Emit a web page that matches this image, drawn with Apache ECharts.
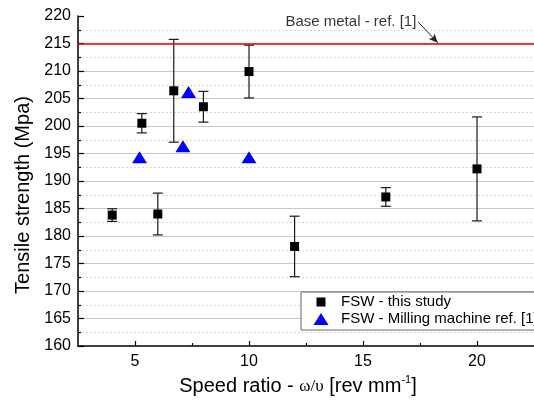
<!DOCTYPE html>
<html>
<head>
<meta charset="utf-8">
<script src="https://cdn.jsdelivr.net/npm/echarts@6/dist/echarts.min.js"></script>
<style>
html,body{margin:0;padding:0;background:#fff;}
#chart{width:534px;height:405px;}
</style>
</head>
<body>
<div id="chart"></div>
<script>
// ---- data ----
const fswX = [4, 5.3, 6, 6.7, 8, 10, 12, 16, 20];
const fswY = [183.8, 200.5, 184.0, 206.4, 203.5, 209.9, 178.1, 187.1, 192.2];
const fswErr = [1.15, 1.75, 3.8, 9.35, 2.8, 4.8, 5.5, 1.7, 9.45];
const millX = [5.2, 7.1, 7.35, 10.0];
const millY = [194.3, 196.3, 206.2, 194.3];
const baseMetal = 215;
const xTicks = [5, 10, 15, 20];
const xMinorTicks = [7.5, 12.5, 17.5];
const annotText = 'Base metal - ref. [1]';
const annotPos = [17.36, 218.9];
const arrowFrom = [17.42, 218.9];
const arrowTo = [18.28, 215.15];
const seriesNames = ['FSW - this study', 'FSW - Milling machine ref. [1]'];

const FONT = "'Liberation Sans', Arial, sans-serif";
const chart = echarts.init(document.getElementById('chart'));

const errData = fswX.map((x, i) => [x, fswY[i] - fswErr[i], fswY[i] + fswErr[i]]);

chart.setOption({
  animation: false,
  backgroundColor: '#fff',
  grid: { left: 78, top: 16, width: 463, height: 330, containLabel: false },
  legend: {
    orient: 'vertical',
    left: 301, top: 292,
    padding: [2, 40, 3, 5],
    itemGap: 1,
    itemWidth: 30, itemHeight: 16,
    borderColor: '#666', borderWidth: 1, borderRadius: 0,
    backgroundColor: '#fff',
    textStyle: { fontFamily: FONT, fontSize: 15, color: '#000', lineHeight: 16 },
    data: [
      { name: seriesNames[0], icon: 'path://M0,0M30,16M10.5,3.5h9v9h-9z', itemStyle: { color: '#000', opacity: 1 } },
      { name: seriesNames[1], icon: 'path://M0,0M30,16M15,2L22.5,14L7.5,14Z', itemStyle: { color: '#0000ff', opacity: 1 } }
    ]
  },
  xAxis: [{
    type: 'value', min: 2.5, max: 22.5,
    axisLine: { show: true, lineStyle: { color: '#000', width: 1.5 } },
    axisTick: { show: true, inside: true, length: 5, customValues: xTicks, lineStyle: { color: '#000', width: 1.2 } },
    axisLabel: { customValues: xTicks, fontFamily: FONT, fontSize: 16, color: '#000', margin: 8 },
    splitLine: { show: false },
    name: 'Speed ratio - {g|ω/υ} [rev mm{sup|-1}]',
    nameLocation: 'middle', nameGap: 28,
    nameTextStyle: {
      fontFamily: FONT, fontSize: 20, color: '#000', padding: [0, 16, 0, 0],
      rich: {
        g: { fontFamily: "'Liberation Serif', 'Times New Roman', serif", fontSize: 17, color: '#000' },
        sup: { fontFamily: FONT, fontSize: 11, color: '#000', padding: [0, 0, 12, 0] }
      }
    }
  }, {
    type: 'value', min: 2.5, max: 22.5, position: 'bottom',
    axisLine: { show: false },
    axisTick: { show: true, inside: true, length: 3, customValues: xMinorTicks, lineStyle: { color: '#000', width: 1.2 } },
    axisLabel: { show: false },
    splitLine: { show: false }
  }],
  yAxis: {
    type: 'value', min: 160, max: 220, interval: 5,
    axisLine: { show: true, lineStyle: { color: '#000', width: 1.5 } },
    axisTick: { show: true, inside: true, length: 6, lineStyle: { color: '#000', width: 1.2 } },
    minorTick: { show: true, splitNumber: 2, length: 3, lineStyle: { color: '#000', width: 1.2 } },
    axisLabel: { fontFamily: FONT, fontSize: 16, color: '#000', margin: 7 },
    splitLine: { show: true, showMaxLine: false, showMinLine: false, lineStyle: { color: '#c8c8c8', width: 1.2 } },
    minorSplitLine: { show: true, lineStyle: { color: '#d8d8d8', width: 1, type: [2, 2] } },
    name: 'Tensile strength (Mpa)',
    nameLocation: 'middle', nameGap: 44,
    nameTextStyle: { fontFamily: FONT, fontSize: 20, color: '#000', padding: [0, 28, 0, 0] }
  },
  series: [
    {
      name: 'errors', type: 'custom', z: 2,
      data: errData,
      renderItem: function (params, api) {
        const x = api.value(0);
        const lo = api.coord([x, api.value(1)]);
        const hi = api.coord([x, api.value(2)]);
        const w = 5;
        const style = { stroke: '#1a1a1a', lineWidth: 1.2 };
        return {
          type: 'group',
          children: [
            { type: 'line', shape: { x1: lo[0], y1: lo[1], x2: hi[0], y2: hi[1] }, style: style },
            { type: 'line', shape: { x1: lo[0] - w, y1: lo[1], x2: lo[0] + w, y2: lo[1] }, style: style },
            { type: 'line', shape: { x1: hi[0] - w, y1: hi[1], x2: hi[0] + w, y2: hi[1] }, style: style }
          ]
        };
      },
      silent: true
    },
    {
      name: seriesNames[0], type: 'scatter', z: 3,
      symbol: 'rect', symbolSize: 9,
      itemStyle: { color: '#000', opacity: 1 },
      data: fswX.map((x, i) => [x, fswY[i]]),
      markLine: {
        silent: true, animation: false,
        symbol: ['none', 'none'],
        label: { show: false },
        lineStyle: { color: '#ee0000', width: 1.6, type: 'solid' },
        data: [{ yAxis: baseMetal }]
      }
    },
    {
      name: seriesNames[1], type: 'scatter', z: 3,
      symbol: 'triangle', symbolSize: [15, 12],
      itemStyle: { color: '#0000ff', opacity: 1 },
      data: millX.map((x, i) => [x, millY[i]])
    },
    {
      name: 'annot', type: 'scatter', z: 4, silent: true,
      symbol: 'circle', symbolSize: 1,
      itemStyle: { color: 'rgba(0,0,0,0)' },
      data: [annotPos],
      label: { show: true, position: 'left', distance: 0, formatter: annotText, fontFamily: FONT, fontSize: 15, color: '#000' },
      markLine: {
        silent: true, animation: false,
        symbol: ['none', 'arrow'], symbolSize: [6, 9],
        label: { show: false },
        lineStyle: { color: '#222', width: 1, type: 'solid' },
        data: [[{ coord: arrowFrom }, { coord: arrowTo }]]
      }
    }
  ]
});
</script>
</body>
</html>
